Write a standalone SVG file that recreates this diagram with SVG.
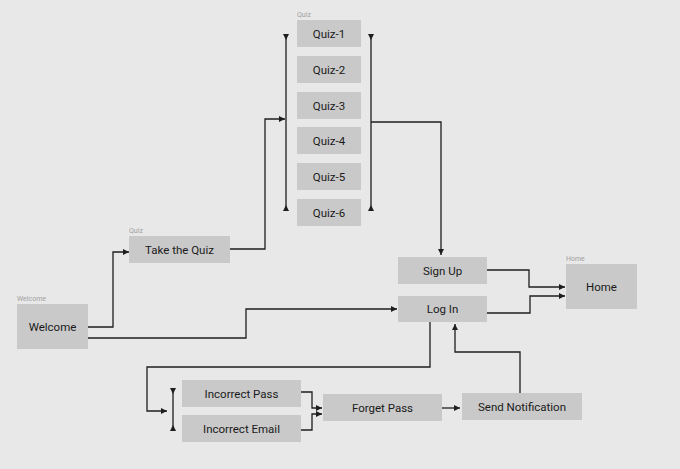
<svg xmlns="http://www.w3.org/2000/svg" width="680" height="469" viewBox="0 0 680 469">
<defs>
<style>
.box{fill:#c9c9c9}
.t{font-family:Roboto,"Liberation Sans",sans-serif;font-size:11.5px;fill:#1a1a1a;text-anchor:middle;dominant-baseline:central}
.lbl{font-family:Roboto,"Liberation Sans",sans-serif;font-size:7px;fill:#a0a0a0}
.c{fill:none;stroke:#1e1e1e;stroke-width:1.3}
</style>
<marker id="ah" viewBox="0 0 10 10" refX="10" refY="5" markerWidth="6" markerHeight="6" markerUnits="userSpaceOnUse" orient="auto"><path d="M0,0 L10,5 L0,10 z" fill="#1e1e1e"/></marker>
<marker id="bar" viewBox="0 0 10 10" refX="10" refY="5" markerWidth="6" markerHeight="6" markerUnits="userSpaceOnUse" orient="auto"><path d="M10,0 L10,10 L0,5 z" fill="#1e1e1e"/></marker>
</defs>
<rect width="680" height="469" fill="#e8e8e8"/>

<g id="welcome"><text class="lbl" x="17" y="301">Welcome</text><rect class="box" x="17" y="304" width="71" height="45"/><text class="t" x="52.5" y="326.5">Welcome</text></g>
<g id="take-quiz"><text class="lbl" x="129" y="233">Quiz</text><rect class="box" x="129" y="236" width="101" height="27"/><text class="t" x="179.5" y="249.5">Take the Quiz</text></g>
<g id="quiz-1"><text class="lbl" x="297" y="17">Quiz</text><rect class="box" x="297" y="20" width="64" height="27"/><text class="t" x="329" y="33.5">Quiz-1</text></g>
<g id="quiz-2"><rect class="box" x="297" y="56" width="64" height="27"/><text class="t" x="329" y="69.5">Quiz-2</text></g>
<g id="quiz-3"><rect class="box" x="297" y="92" width="64" height="27"/><text class="t" x="329" y="105.5">Quiz-3</text></g>
<g id="quiz-4"><rect class="box" x="297" y="127" width="64" height="27"/><text class="t" x="329" y="140.5">Quiz-4</text></g>
<g id="quiz-5"><rect class="box" x="297" y="163" width="64" height="27"/><text class="t" x="329" y="176.5">Quiz-5</text></g>
<g id="quiz-6"><rect class="box" x="297" y="199" width="64" height="27"/><text class="t" x="329" y="212.5">Quiz-6</text></g>
<g id="sign-up"><rect class="box" x="398" y="257" width="89" height="27"/><text class="t" x="442.5" y="270.5">Sign Up</text></g>
<g id="log-in"><rect class="box" x="398" y="296" width="89" height="26"/><text class="t" x="442.5" y="309">Log In</text></g>
<g id="home"><text class="lbl" x="566" y="261">Home</text><rect class="box" x="566" y="264" width="71" height="45"/><text class="t" x="601.5" y="286.5">Home</text></g>
<g id="incorrect-pass"><rect class="box" x="182" y="380" width="119" height="27"/><text class="t" x="241.5" y="393.5">Incorrect Pass</text></g>
<g id="incorrect-email"><rect class="box" x="182" y="415" width="119" height="27"/><text class="t" x="241.5" y="428.5">Incorrect Email</text></g>
<g id="forget-pass"><rect class="box" x="323" y="394" width="119" height="27"/><text class="t" x="382.5" y="407.5">Forget Pass</text></g>
<g id="send-notification"><rect class="box" x="462" y="393" width="120" height="27"/><text class="t" x="522" y="406.5">Send Notification</text></g>

<g id="connectors">
<path class="c" d="M286,122 L286,34" marker-end="url(#bar)"/>
<path class="c" d="M286,122 L286,211" marker-end="url(#bar)"/>
<path class="c" d="M371,122 L371,34" marker-end="url(#bar)"/>
<path class="c" d="M371,122 L371,211" marker-end="url(#bar)"/>
<path class="c" d="M173,410 L173,388" marker-end="url(#bar)"/>
<path class="c" d="M173,410 L173,431" marker-end="url(#bar)"/>

<path class="c" d="M88,327 L113,327 L113,252 L129,252" marker-end="url(#ah)"/>
<path class="c" d="M88,338 L246,338 L246,309 L397,309" marker-end="url(#ah)"/>
<path class="c" d="M230,249 L265,249 L265,119 L285,119" marker-end="url(#ah)"/>
<path class="c" d="M371,122 L441,122 L441,255" marker-end="url(#ah)"/>
<path class="c" d="M487,270 L529,270 L529,287 L565,287" marker-end="url(#ah)"/>
<path class="c" d="M487,313 L530,313 L530,296 L565,296" marker-end="url(#ah)"/>
<path class="c" d="M430,322 L430,367 L147,367 L147,411 L167,411" marker-end="url(#ah)"/>
<path class="c" d="M301,392 L312,392 L312,408 L322,408" marker-end="url(#ah)"/>
<path class="c" d="M301,430 L312,430 L312,414 L322,414" marker-end="url(#ah)"/>
<path class="c" d="M442,408 L460,408" marker-end="url(#ah)"/>
<path class="c" d="M520,393 L520,352 L455,352 L455,324" marker-end="url(#ah)"/>
</g>
</svg>
